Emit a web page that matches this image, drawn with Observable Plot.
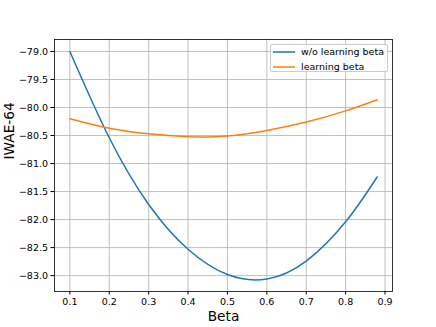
<!DOCTYPE html>
<html>
<head>
<meta charset="utf-8">
<script src="https://cdn.jsdelivr.net/npm/d3@7"></script>
<script src="https://cdn.jsdelivr.net/npm/@observablehq/plot@0.6"></script>
<style>
  html, body { margin: 0; padding: 0; background: #fff; }
  #wrap { position: relative; width: 436px; height: 327px; font-family: "DejaVu Sans", sans-serif; }
  #legend { position: absolute; left: 270px; top: 44px; width: 118px; height: 28px;
    border: 0.8px solid #cccccc; border-radius: 2px; background: rgba(255,255,255,0.8);
    font-size: 9.5px; color: #000; box-sizing: border-box; }
  .row { position: absolute; left: 2px; height: 12px; display: flex; align-items: center; }
  .row svg { margin-right: 6px; }
</style>
</head>
<body>
<div id="wrap"></div>
<script>
const betas = [0.1, 0.2, 0.3, 0.4, 0.5, 0.6, 0.7, 0.8, 0.88];
const noLearning = [-79.0, -80.54, -81.73, -82.53, -82.98, -83.06, -82.74, -82.04, -81.24];
const learning = [-80.20, -80.37, -80.47, -80.52, -80.51, -80.41, -80.26, -80.06, -79.86];
const seriesNames = ["w/o learning beta", "learning beta"];
const seriesColors = ["#1f77b4", "#ff7f0e"];
const xTicks = [0.1, 0.2, 0.3, 0.4, 0.5, 0.6, 0.7, 0.8, 0.9];
const yTicks = [-83.0, -82.5, -82.0, -81.5, -81.0, -80.5, -80.0, -79.5, -79.0];

const rows = [];
betas.forEach((b, i) => {
  rows.push({beta: b, value: noLearning[i], series: seriesNames[0]});
  rows.push({beta: b, value: learning[i], series: seriesNames[1]});
});

const chart = Plot.plot({
  width: 436,
  height: 327,
  marginLeft: 54,
  marginRight: 44,
  marginTop: 39,
  marginBottom: 36,
  style: {fontFamily: "DejaVu Sans, sans-serif", fontSize: "9.5px", color: "#000", background: "#fff"},
  x: {domain: [0.061, 0.919]},
  y: {domain: [-83.2835, -78.7865]},
  color: {domain: seriesNames, range: seriesColors},
  marks: [
    Plot.gridX(xTicks, {stroke: "#b0b0b0", strokeOpacity: 1, strokeWidth: 0.8}),
    Plot.gridY(yTicks, {stroke: "#b0b0b0", strokeOpacity: 1, strokeWidth: 0.8}),
    Plot.line(rows, {x: "beta", y: "value", z: "series", stroke: "series", strokeWidth: 1.5, curve: "natural"}),
    Plot.frame({stroke: "#000", strokeWidth: 0.8}),
    Plot.axisX(xTicks, {tickSize: 3.5, tickPadding: 3, tickFormat: d3.format(".1f"), label: null}),
    Plot.axisY(yTicks, {tickSize: 3.5, tickPadding: 3, tickFormat: d3.format(".1f"), label: null}),
    Plot.text(["Beta"], {frameAnchor: "bottom", dy: 25.5, fontSize: 13.7, lineAnchor: "middle"}),
    Plot.text(["IWAE-64"], {frameAnchor: "left", dx: -45, dy: -6, rotate: -90, fontSize: 13.7, lineAnchor: "middle"})
  ]
});

const wrap = document.getElementById("wrap");
wrap.appendChild(chart);
const legend = document.createElement("div");
legend.id = "legend";
seriesNames.forEach((name, i) => {
  const row = document.createElement("div");
  row.className = "row";
  row.style.top = (0.5 + i * 15) + "px";
  const ns = "http://www.w3.org/2000/svg";
  const svg = document.createElementNS(ns, "svg");
  svg.setAttribute("width", "22");
  svg.setAttribute("height", "12");
  const ln = document.createElementNS(ns, "line");
  ln.setAttribute("x1", "0"); ln.setAttribute("x2", "22");
  ln.setAttribute("y1", "6"); ln.setAttribute("y2", "6");
  ln.setAttribute("stroke", seriesColors[i]);
  ln.setAttribute("stroke-width", "1.5");
  svg.appendChild(ln);
  const t = document.createElement("span");
  t.textContent = name;
  row.appendChild(svg);
  row.appendChild(t);
  legend.appendChild(row);
});
wrap.appendChild(legend);
</script>
</body>
</html>
